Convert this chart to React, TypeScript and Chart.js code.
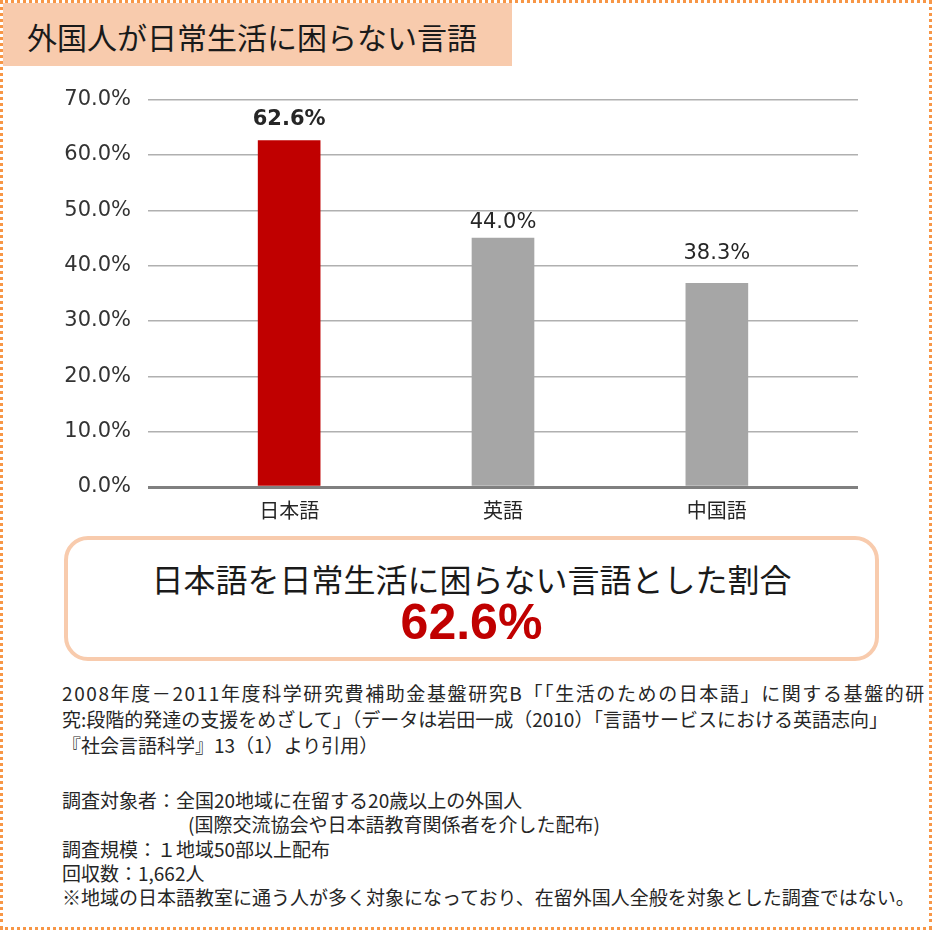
import React, { useEffect, useRef } from "react";
import { Chart, registerables } from "chart.js";

Chart.register(...registerables);

const title = "外国人が日常生活に困らない言語";
const categories = ["日本語", "英語", "中国語"];
const barValues = [62.6, 45.0, 36.8];
const valueLabels = ["62.6%", "44.0%", "38.3%"];
const barColors = ["#C00000", "#A6A6A6", "#A6A6A6"];
const yMin = 0;
const yMax = 70;
const yStep = 10;
const calloutText = "日本語を日常生活に困らない言語とした割合";
const calloutValue = "62.6%";
const sourceLines = [
  "2008年度－2011年度科学研究費補助金基盤研究B「「生活のための日本語」に関する基盤的研",
  "究:段階的発達の支援をめざして」（データは岩田一成（2010）「言語サービスにおける英語志向」",
  "『社会言語科学』13（1）より引用）",
];
const surveyLines = [
  "調査対象者：全国20地域に在留する20歳以上の外国人",
  "(国際交流協会や日本語教育関係者を介した配布)",
  "調査規模：１地域50部以上配布",
  "回収数：1,662人",
  "※地域の日本語教室に通う人が多く対象になっており、在留外国人全般を対象とした調査ではない。",
];

const JP = '"Noto Sans CJK JP", "Noto Sans", sans-serif';
const NUM = '"DejaVu Sans", Verdana, sans-serif';

const labelPlugin = {
  id: "valueLabels",
  afterDatasetsDraw(chart: any) {
    const meta = chart.getDatasetMeta(0);
    const ctx = chart.ctx;
    const ys = chart.scales.y;
    ctx.save();
    ctx.textAlign = "center";
    ctx.textBaseline = "middle";
    ctx.fillStyle = "#262626";
    meta.data.forEach((bar: any, i: number) => {
      ctx.font = (i === 0 ? "bold " : "") + "21px " + NUM;
      const v = parseFloat(valueLabels[i]);
      ctx.fillText(valueLabels[i], bar.x, ys.getPixelForValue(v) - 21);
    });
    ctx.restore();
  },
};

function BarChart() {
  const ref = useRef<HTMLCanvasElement | null>(null);
  useEffect(() => {
    if (!ref.current) return;
    const chart = new Chart(ref.current, {
      type: "bar",
      data: {
        datasets: [
          {
            data: categories.map((_, i) => ({ x: i, y: barValues[i] })),
            backgroundColor: barColors,
            borderWidth: 0,
            barThickness: 62,
          },
        ],
      },
      options: {
        animation: false,
        responsive: true,
        maintainAspectRatio: false,
        layout: { padding: { top: 23, right: 42, left: 0, bottom: 0 } },
        plugins: { legend: { display: false }, tooltip: { enabled: false } },
        scales: {
          x: {
            type: "linear",
            min: -0.66,
            max: 2.66,
            offset: false,
            grid: { display: false },
            border: { display: false },
            afterBuildTicks: (scale: any) => {
              scale.ticks = categories.map((_, i) => ({ value: i }));
            },
            afterFit: (scale: any) => {
              scale.height = 43;
            },
            ticks: {
              padding: 3,
              color: "#262626",
              font: { family: JP, size: 20 },
              callback: (v: any) => categories[v] ?? "",
              maxRotation: 0,
              autoSkip: false,
            },
          },
          y: {
            min: yMin,
            max: yMax,
            border: { display: false },
            afterFit: (scale: any) => {
              scale.width = 148;
            },
            grid: {
              drawTicks: false,
              color: (c: any) => (c.tick && c.tick.value === 0 ? "#808080" : "#B0B0B0"),
              lineWidth: (c: any) => (c.tick && c.tick.value === 0 ? 3 : 1.5),
            },
            ticks: {
              stepSize: yStep,
              padding: 17,
              color: "#333333",
              font: { family: NUM, size: 21 },
              callback: (v: any) => Number(v).toFixed(1) + "%",
            },
          },
        },
      },
      plugins: [labelPlugin],
    } as any);
    return () => chart.destroy();
  }, []);
  return <canvas ref={ref} />;
}

export default function App() {
  return (
    <div
      style={{
        position: "fixed",
        left: 0,
        top: 0,
        width: 947,
        height: 931,
        background: "#ffffff",
        fontFamily: JP,
        color: "#1f1f1f",
        overflow: "hidden",
      }}
    >
      <div
        style={{
          position: "absolute",
          left: 0,
          top: 0,
          width: 932,
          height: 930,
          boxSizing: "border-box",
          border: "3px dotted #F79646",
        }}
      />
      <div
        style={{
          position: "absolute",
          left: 3,
          top: 3,
          width: 509,
          height: 63,
          background: "#F8CBAD",
        }}
      >
        <div
          style={{
            position: "absolute",
            left: 24,
            top: 0,
            height: 63,
            lineHeight: "66px",
            fontSize: 30,
            whiteSpace: "nowrap",
            color: "#1a1a1a",
          }}
        >
          {title}
        </div>
      </div>
      <div style={{ position: "absolute", left: 0, top: 70, width: 900, height: 460 }}>
        <BarChart />
      </div>
      <div
        style={{
          position: "absolute",
          left: 64,
          top: 536,
          width: 815,
          height: 125,
          boxSizing: "border-box",
          border: "4px solid #F8CBAD",
          borderRadius: 24,
          background: "#ffffff",
        }}
      />
      <div
        style={{
          position: "absolute",
          left: 64,
          width: 815,
          top: 560,
          height: 36,
          lineHeight: "36px",
          textAlign: "center",
          fontSize: 32,
          whiteSpace: "nowrap",
          color: "#1a1a1a",
        }}
      >
        {calloutText}
      </div>
      <div
        style={{
          position: "absolute",
          left: 64,
          width: 815,
          top: 597,
          height: 50,
          lineHeight: "50px",
          textAlign: "center",
          fontSize: 50,
          fontWeight: "bold",
          fontFamily: '"Liberation Sans", Arial, sans-serif',
          color: "#C00000",
        }}
      >
        {calloutValue}
      </div>
      <div
        style={{
          position: "absolute",
          left: 62,
          top: 680,
          fontSize: 19,
          lineHeight: "26px",
          whiteSpace: "nowrap",
          color: "#262626",
        }}
      >
        {sourceLines.map((l, i) => (
          <div key={i} style={{ letterSpacing: i === 0 ? "1.6px" : "0px" }}>
            {l}
          </div>
        ))}
      </div>
      <div
        style={{
          position: "absolute",
          left: 62,
          top: 788,
          fontSize: 19,
          lineHeight: "24.3px",
          whiteSpace: "nowrap",
          color: "#262626",
        }}
      >
        {surveyLines.map((l, i) => (
          <div key={i} style={{ paddingLeft: i === 1 ? 126 : 0 }}>
            {l}
          </div>
        ))}
      </div>
    </div>
  );
}
